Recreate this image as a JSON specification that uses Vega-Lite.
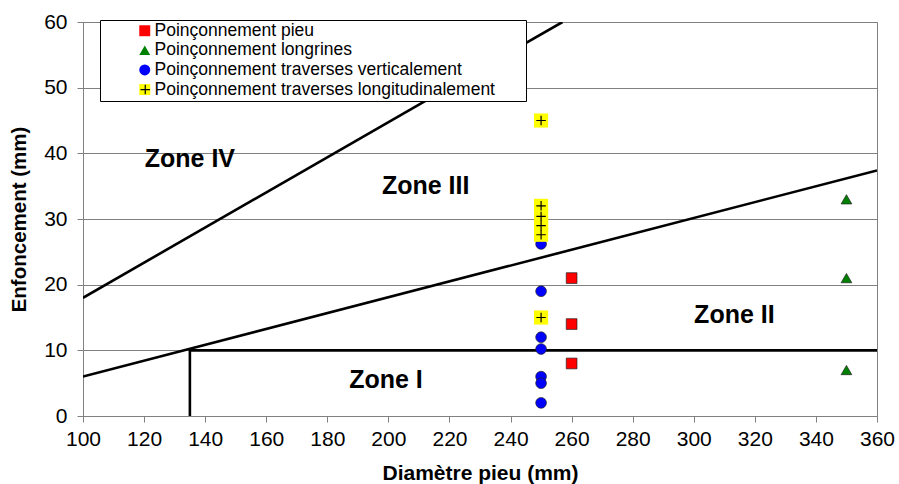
{
  "$schema": "https://vega.github.io/schema/vega-lite/v6.json",
  "width": 794,
  "height": 394,
  "autosize": "none",
  "padding": {"left": 83, "top": 22, "right": 22, "bottom": 68},
  "background": "white",
  "config": {
    "font": "Liberation Sans",
    "view": {"stroke": "#808080", "strokeWidth": 1},
    "axis": {"labelFont": "Liberation Sans", "titleFont": "Liberation Sans", "labelColor": "black", "titleColor": "black"}
  },
  "datasets": {
    "lignes": [
      {"id": "A", "i": 0, "x": 100, "y": 18},
      {"id": "A", "i": 1, "x": 257, "y": 60},
      {"id": "B", "i": 0, "x": 100, "y": 6},
      {"id": "B", "i": 1, "x": 360, "y": 37.4},
      {"id": "C", "i": 0, "x": 135, "y": 0},
      {"id": "C", "i": 1, "x": 135, "y": 10},
      {"id": "C", "i": 2, "x": 360, "y": 10}
    ],
    "points": [
      {"serie": "Poinçonnement pieu", "x": 260, "y": 21},
      {"serie": "Poinçonnement pieu", "x": 260, "y": 14},
      {"serie": "Poinçonnement pieu", "x": 260, "y": 8},
      {"serie": "Poinçonnement longrines", "x": 350, "y": 33},
      {"serie": "Poinçonnement longrines", "x": 350, "y": 21},
      {"serie": "Poinçonnement longrines", "x": 350, "y": 7},
      {"serie": "Poinçonnement traverses verticalement", "x": 250, "y": 26.2},
      {"serie": "Poinçonnement traverses verticalement", "x": 250, "y": 19},
      {"serie": "Poinçonnement traverses verticalement", "x": 250, "y": 12},
      {"serie": "Poinçonnement traverses verticalement", "x": 250, "y": 10.2},
      {"serie": "Poinçonnement traverses verticalement", "x": 250, "y": 6},
      {"serie": "Poinçonnement traverses verticalement", "x": 250, "y": 5},
      {"serie": "Poinçonnement traverses verticalement", "x": 250, "y": 2},
      {"serie": "Poinçonnement traverses longitudinalement", "x": 250, "y": 45},
      {"serie": "Poinçonnement traverses longitudinalement", "x": 250, "y": 32},
      {"serie": "Poinçonnement traverses longitudinalement", "x": 250, "y": 30.4},
      {"serie": "Poinçonnement traverses longitudinalement", "x": 250, "y": 29},
      {"serie": "Poinçonnement traverses longitudinalement", "x": 250, "y": 27.6},
      {"serie": "Poinçonnement traverses longitudinalement", "x": 250, "y": 15}
    ],
    "croix": [
      {"k": "d", "x": 250, "y": 45},
      {"k": "d", "x": 250, "y": 32},
      {"k": "d", "x": 250, "y": 30.4},
      {"k": "d", "x": 250, "y": 29},
      {"k": "d", "x": 250, "y": 27.6},
      {"k": "d", "x": 250, "y": 15}
    ],
    "zones": [
      {"label": "Zone IV", "x": 135, "y": 39.2},
      {"label": "Zone III", "x": 212.2, "y": 35.1},
      {"label": "Zone II", "x": 313.3, "y": 15.4},
      {"label": "Zone I", "x": 199.2, "y": 5.5}
    ]
  },
  "encoding": {
    "x": {
      "field": "x", "type": "quantitative",
      "scale": {"domain": [100, 360], "nice": false, "zero": false},
      "axis": {
        "title": "Diamètre pieu (mm)",
        "values": [100, 120, 140, 160, 180, 200, 220, 240, 260, 280, 300, 320, 340, 360],
        "grid": false,
        "domainColor": "#808080", "tickColor": "#808080", "tickSize": 6,
        "labelFontSize": 21, "labelPadding": 6, "labelFlush": false, "labelOverlap": false,
        "titleFontSize": 21, "titleFontWeight": "bold", "titlePadding": 13
      }
    },
    "y": {
      "field": "y", "type": "quantitative",
      "scale": {"domain": [0, 60], "nice": false, "zero": false},
      "axis": {
        "title": "Enfoncement (mm)",
        "values": [0, 10, 20, 30, 40, 50, 60],
        "grid": true, "gridColor": "#808080", "gridWidth": 1,
        "domainColor": "#808080", "tickColor": "#808080", "tickSize": 6,
        "labelFontSize": 21, "labelPadding": 10, "labelFlush": false, "labelOverlap": false,
        "titleFontSize": 20.5, "titleFontWeight": "bold", "titlePadding": 14
      }
    }
  },
  "layer": [
    {
      "data": {"name": "lignes"},
      "mark": {"type": "line", "color": "black", "strokeWidth": 2.6, "clip": true},
      "encoding": {
        "detail": {"field": "id", "type": "nominal"},
        "order": {"field": "i", "type": "quantitative"}
      }
    },
    {
      "data": {"name": "zones"},
      "mark": {"type": "text", "font": "Liberation Sans", "fontSize": 25, "fontWeight": "bold", "align": "center", "baseline": "middle", "color": "black"},
      "encoding": {"text": {"field": "label", "type": "nominal"}}
    },
    {
      "data": {"name": "points"},
      "mark": {"type": "point", "filled": true, "opacity": 1, "stroke": "#222222", "strokeWidth": 0.7},
      "encoding": {
        "fill": {
          "field": "serie", "type": "nominal",
          "scale": {
            "domain": ["Poinçonnement pieu", "Poinçonnement longrines", "Poinçonnement traverses verticalement", "Poinçonnement traverses longitudinalement"],
            "range": ["#FF0000", "#008000", "#0000FF", "#FFFF00"]
          },
          "legend": {
            "title": ".", "titleOrient": "right", "titleColor": "transparent", "titleFontSize": 6, "titlePadding": 27,
            "orient": "none", "legendX": 17, "legendY": -2,
            "fillColor": "white", "strokeColor": "black", "padding": 2, "zindex": 1,
            "symbolOffset": 34, "labelOffset": 1, "labelFontSize": 17.5, "labelFont": "Liberation Sans", "labelColor": "black",
            "rowPadding": 0.6, "symbolSize": 120, "symbolStrokeColor": "#222222", "symbolStrokeWidth": 0.7,
            "labelLimit": 0
          }
        },
        "shape": {
          "field": "serie", "type": "nominal",
          "scale": {
            "domain": ["Poinçonnement pieu", "Poinçonnement longrines", "Poinçonnement traverses verticalement", "Poinçonnement traverses longitudinalement"],
            "range": ["square", "triangle-up", "circle", "square"]
          },
          "legend": {
            "title": ".", "titleOrient": "right", "titleColor": "transparent", "titleFontSize": 6, "titlePadding": 27,
            "orient": "none", "legendX": 17, "legendY": -2,
            "fillColor": "white", "strokeColor": "black", "padding": 2, "zindex": 1,
            "symbolOffset": 34, "labelOffset": 1, "labelFontSize": 17.5, "labelFont": "Liberation Sans", "labelColor": "black",
            "rowPadding": 0.6, "symbolSize": 120, "symbolStrokeColor": "#222222", "symbolStrokeWidth": 0.7,
            "labelLimit": 0
          }
        },
        "size": {
          "condition": {"test": "datum.serie === 'Poinçonnement traverses longitudinalement'", "value": 200},
          "value": 115
        },
        "strokeOpacity": {
          "condition": {"test": "datum.serie === 'Poinçonnement traverses longitudinalement'", "value": 0},
          "value": 1
        }
      }
    },
    {
      "data": {"name": "croix"},
      "mark": {"type": "point", "filled": false, "shape": "M-1,0H1M0,-1V1", "size": 90, "strokeWidth": 1.2, "opacity": 1},
      "encoding": {
        "stroke": {
          "field": "k", "type": "nominal",
          "scale": {"domain": ["a", "b", "c", "d"], "range": ["transparent", "transparent", "transparent", "black"]},
          "legend": {
            "title": null, "orient": "none", "legendX": 17, "legendY": -2,
            "fillColor": "transparent", "strokeColor": "transparent", "padding": 2, "zindex": 2,
            "symbolOffset": 34.5, "labelOffset": 1, "labelFontSize": 17.5, "labelFont": "Liberation Sans",
            "rowPadding": 0.6, "symbolSize": 90, "symbolType": "M-1,0H1M0,-1V1",
            "symbolFillColor": "transparent", "symbolStrokeWidth": 1.2, "labelOpacity": 0
          }
        }
      }
    }
  ]
}
